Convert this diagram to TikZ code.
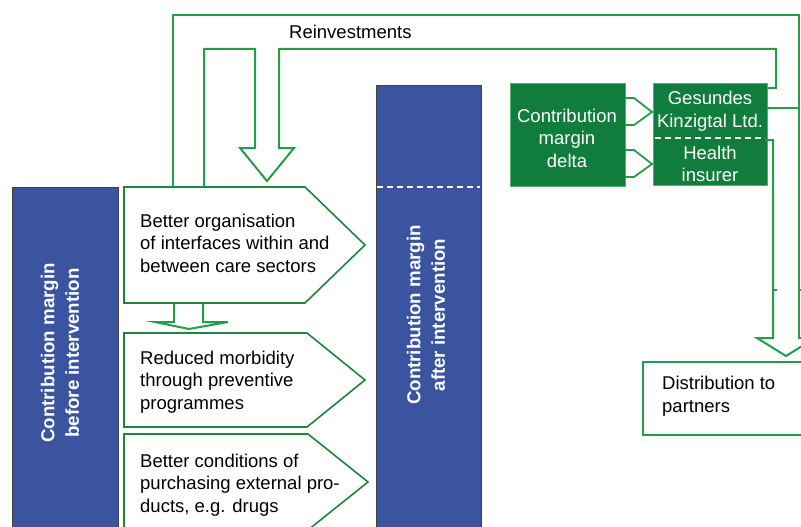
\documentclass[tikz,border=0pt]{standalone}
\usepackage{fontspec}
\setmainfont{Liberation Sans}
\definecolor{conn}{RGB}{34,158,74}
\definecolor{boxline}{RGB}{28,135,60}
\definecolor{gfill}{RGB}{16,125,60}
\definecolor{bfill}{RGB}{58,84,160}
\newcommand{\fs}{\fontsize{18.5}{22.5}\selectfont}
\newcommand{\fsb}{\fontsize{18.7}{24.5}\selectfont\bfseries}
\begin{document}
\begin{tikzpicture}[x=1pt,y=-1pt,
  connline/.style={draw=conn,line width=2pt},
  pentbox/.style={draw=boxline,line width=1.6pt,fill=white,line join=miter},
  bluebar/.style={fill=bfill,draw=black!75,line width=0.8pt},
  greenbox/.style={fill=gfill,draw=conn!80,line width=1pt},
  txt/.style={inner sep=0pt,font=\fs,align=left,anchor=west},
  wtxt/.style={inner sep=0pt,font=\fs,align=center,text=white},
  bartxt/.style={inner sep=0pt,font=\fsb,align=center,text=white,rotate=90},
  wdash/.style={draw=white,line width=1.6pt,dash pattern=on 6pt off 4pt}]
\useasboundingbox (0,0) rectangle (801,527);
\clip (0,0) rectangle (801,527);
% blue bars
\path[bluebar] (12,187) rectangle (118,535);
\path[bluebar] (376,85) rectangle (481,535);
\draw[wdash] (377,187) -- (480,187);
\node[bartxt] (before) at (60,353) {Contribution margin\\before intervention};
\node[bartxt] (after) at (426,315) {Contribution margin\\after intervention};
% pentagon boxes
\path[pentbox] (124,187) -- (305,187) -- (365,245) -- (305,303) -- (124,303) -- cycle;
\path[pentbox] (124,333) -- (307,333) -- (365,380) -- (307,427) -- (124,427) -- cycle;
\path[pentbox] (124,434) -- (308,434) -- (368,482) -- (308,530) -- (124,530) -- cycle;
\node[txt] (b1) at (140,243) {Better organisation\\of interfaces within and\\between care sectors};
\node[txt] (b2) at (140,382) {Reduced morbidity\\through preventive\\programmes};
\node[txt] (b3) at (140,485) {Better conditions of\\purchasing external pro-\\ducts, e.g. drugs};
% small arrow between box 1 and 2
\draw[connline,line join=miter] (174,303) -- (174,322) -- (155,322) -- (189,329) -- (228,322) -- (203,322) -- (203,303);
% reinvestment loop
\draw[connline] (173,187) -- (173,15) -- (799,15) -- (799,338) -- (815,338);
\draw[connline] (204,187) -- (204,49) -- (255,49) -- (255,148) -- (240,148) -- (267,181) -- (294,148) -- (279,148) -- (279,49) -- (776,49) -- (776,88) -- (767,88);
\node[font=\fs,inner sep=0pt,anchor=west] (reinv) at (289,32) {Reinvestments};
% green boxes
\path[greenbox] (510,84) rectangle (625,186);
\path[greenbox] (653,84) rectangle (767,185);
\draw[wdash] (655,138) -- (765,138);
\node[wtxt] (delta) at (567,138) {Contribution\\margin\\delta};
\node[wtxt] (gk) at (710,111) {Gesundes\\Kinzigtal Ltd.};
\node[wtxt] (hi) at (710,164) {Health\\insurer};
\draw[connline,line width=1.8pt] (625,98) -- (634,98) -- (652,112) -- (634,125) -- (625,125);
\draw[connline,line width=1.8pt] (625,150) -- (634,150) -- (652,164) -- (634,177) -- (625,177);
\draw[connline] (767,108) -- (799,108);
\draw[connline] (765,140) -- (773,140) -- (773,338) -- (757,338) -- (786,356) -- (815,338);
\draw[connline,line width=1.5pt] (773,290) -- (777,290) (799,290) -- (803,290);
% distribution box
\path[draw=conn,line width=2pt,fill=white] (643,362) rectangle (815,435);
\node[txt] (dist) at (662,396) {Distribution to\\partners};
\end{tikzpicture}
\end{document}
